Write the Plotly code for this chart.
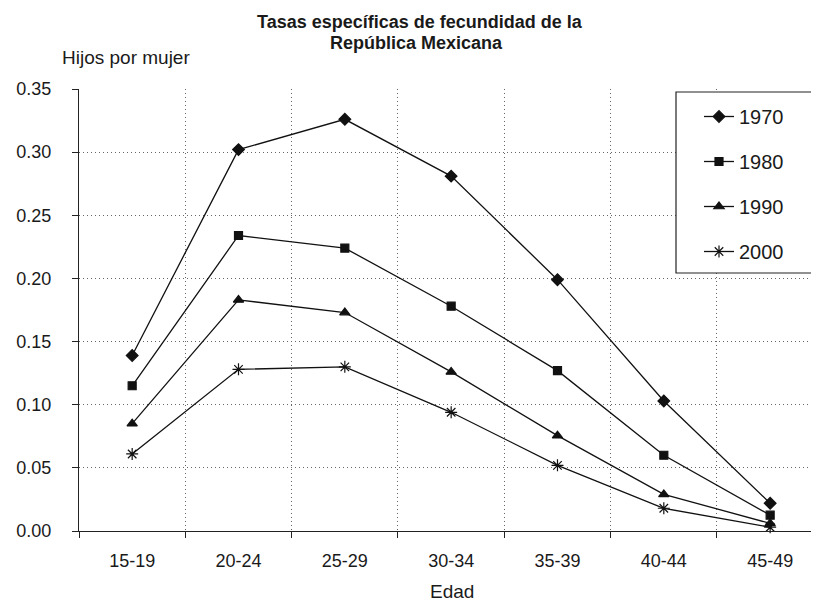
import plotly.graph_objects as go

edades = ["15-19", "20-24", "25-29", "30-34", "35-39", "40-44", "45-49"]
anios = ["1970", "1980", "1990", "2000"]
tasas_1970 = [0.139, 0.302, 0.326, 0.281, 0.199, 0.103, 0.022]
tasas_1980 = [0.115, 0.234, 0.224, 0.178, 0.127, 0.060, 0.0125]
tasas_1990 = [0.085, 0.183, 0.173, 0.126, 0.0755, 0.029, 0.006]
tasas_2000 = [0.061, 0.128, 0.130, 0.094, 0.052, 0.018, 0.003]
y_ticks = [0.00, 0.05, 0.10, 0.15, 0.20, 0.25, 0.30, 0.35]
y_ticktext = ["0.00", "0.05", "0.10", "0.15", "0.20", "0.25", "0.30", "0.35"]
titulo = ["Tasas específicas de fecundidad de la", "República Mexicana"]

series = [tasas_1970, tasas_1980, tasas_1990, tasas_2000]
symbols = ["diamond", "square", "triangle-up", "asterisk-open"]
sizes = [9, 8, 9, 10]

FONT = "Liberation Sans, Arial, sans-serif"
TXT = "#1a1a1a"

# The page places the figure 8px from the top-left corner (browser body margin),
# so the figure is sized to fill the remaining 811x593 window area.
OFF = 8
W, H = 819 - OFF, 601 - OFF
L, R, T, B = 79 - OFF, 1, 89 - OFF, 70
PW, PH = W - L - R, H - T - B


def px_to_paper(px, py):
    """Screen pixel (reference image coords) -> paper coords."""
    return (px - OFF - L) / PW, (H - B - (py - OFF)) / PH


fig = go.Figure()
for name, vals, sym, sz in zip(anios, series, symbols, sizes):
    fig.add_trace(go.Scatter(
        x=edades, y=vals, name=name, mode="lines+markers",
        line=dict(color="#111111", width=1.3),
        marker=dict(symbol=sym, size=sz, color="#111111",
                    line=dict(color="#111111", width=1.2)),
        legendgroup=name, cliponaxis=False,
    ))

hx, hy = px_to_paper(60, 57)
ex, ey = px_to_paper(452, 591)
t1x, t1y = px_to_paper(420, 22)
t2x, t2y = px_to_paper(416, 43)
bx0, by0 = px_to_paper(676, 273)
bx1, by1 = px_to_paper(840, 92)
lx, ly = px_to_paper(699, 97)

fig.update_layout(
    width=W, height=H,
    margin=dict(l=L, r=R, t=T, b=B),
    paper_bgcolor="white", plot_bgcolor="white",
    font=dict(family=FONT, color=TXT, size=18),
    showlegend=True,
    legend=dict(
        x=lx, y=ly, xanchor="left", yanchor="top",
        borderwidth=0, bgcolor="rgba(0,0,0,0)",
        font=dict(family=FONT, size=20, color=TXT),
        tracegroupgap=16, itemwidth=30,
    ),
    shapes=[dict(
        type="rect", xref="paper", yref="paper",
        x0=bx0, x1=bx1, y0=by0, y1=by1,
        line=dict(color="#222222", width=1.2), fillcolor="white",
        layer="above",
    )],
    xaxis=dict(
        type="category", range=[-0.5, 6.45], automargin=False,
        tickson="boundaries", ticks="outside", ticklen=6, tickcolor="#222",
        showgrid=True, gridcolor="#666666", griddash="1px,3px", gridwidth=1,
        showline=True, linecolor="#222222", linewidth=1.3,
        tickfont=dict(family=FONT, size=18, color=TXT),
        ticklabelstandoff=13,
        zeroline=False,
    ),
    yaxis=dict(
        range=[0, 0.35], tickvals=y_ticks, ticktext=y_ticktext, automargin=False,
        ticks="outside", ticklen=6, tickcolor="#222",
        showgrid=True, gridcolor="#666666", griddash="1px,3px", gridwidth=1,
        showline=True, linecolor="#222222", linewidth=1.3,
        tickfont=dict(family=FONT, size=18, color=TXT),
        ticklabelstandoff=17,
        zeroline=False,
    ),
    annotations=[
        dict(text=titulo[0], x=t1x, y=t1y,
             xref="paper", yref="paper", showarrow=False,
             xanchor="center", yanchor="middle",
             font=dict(family=FONT, size=18, color=TXT, weight="bold")),
        dict(text=titulo[1], x=t2x, y=t2y,
             xref="paper", yref="paper", showarrow=False,
             xanchor="center", yanchor="middle",
             font=dict(family=FONT, size=18, color=TXT, weight="bold")),
        dict(text="Hijos por mujer", x=hx, y=hy,
             xref="paper", yref="paper", showarrow=False,
             xanchor="left", yanchor="middle",
             font=dict(family=FONT, size=19, color=TXT)),
        dict(text="Edad", x=ex, y=ey,
             xref="paper", yref="paper", showarrow=False,
             xanchor="center", yanchor="middle",
             font=dict(family=FONT, size=19, color=TXT)),
    ],
)

fig.write_html("out.html")
